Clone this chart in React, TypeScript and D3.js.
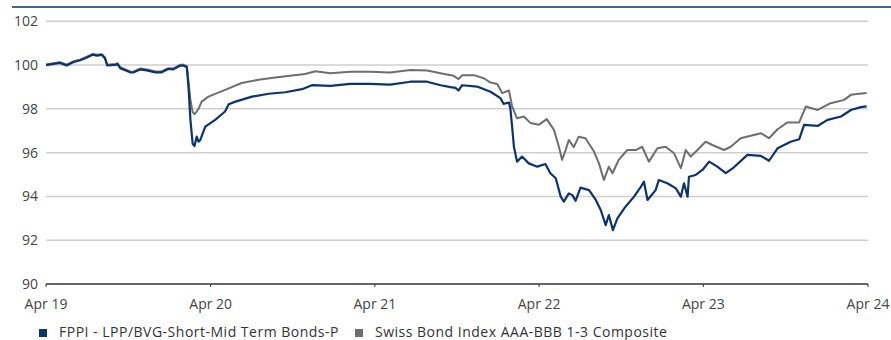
import * as d3 from "d3";

// Chart size
const width = 891;
const height = 340;

// Values, month by month
const fundDates = [
  "2019-04-01", "2019-05-02", "2019-05-17", "2019-05-31", "2019-06-16", "2019-07-01", "2019-07-14", "2019-07-23",
  "2019-08-03", "2019-08-10", "2019-08-15", "2019-09-02", "2019-09-07", "2019-09-13", "2019-10-05", "2019-10-12",
  "2019-10-27", "2019-11-11", "2019-11-30", "2019-12-14", "2019-12-29", "2020-01-09", "2020-01-13", "2020-01-24",
  "2020-01-31", "2020-02-08", "2020-02-12", "2020-02-16", "2020-02-21", "2020-02-25", "2020-03-01", "2020-03-05",
  "2020-03-09", "2020-03-20", "2020-04-11", "2020-05-03", "2020-05-11", "2020-05-26", "2020-07-02", "2020-08-08",
  "2020-09-14", "2020-10-21", "2020-11-12", "2020-12-23", "2021-02-05", "2021-03-22", "2021-05-05", "2021-06-19",
  "2021-07-26", "2021-08-25", "2021-09-16", "2021-09-27", "2021-10-04", "2021-10-12", "2021-11-14", "2021-12-14",
  "2022-01-05", "2022-01-12", "2022-01-24", "2022-01-27", "2022-01-31", "2022-02-04", "2022-02-11", "2022-02-22",
  "2022-03-09", "2022-03-28", "2022-04-15", "2022-04-26", "2022-05-08", "2022-05-19", "2022-05-26", "2022-06-06",
  "2022-06-14", "2022-06-21", "2022-07-02", "2022-07-21", "2022-08-05", "2022-08-16", "2022-08-27", "2022-09-03",
  "2022-09-12", "2022-09-22", "2022-10-10", "2022-10-29", "2022-11-13", "2022-11-20", "2022-11-28", "2022-12-16",
  "2022-12-23", "2023-01-11", "2023-01-30", "2023-02-10", "2023-02-17", "2023-02-25", "2023-02-28", "2023-03-15",
  "2023-03-30", "2023-04-14", "2023-05-02", "2023-05-21", "2023-06-08", "2023-07-08", "2023-08-07", "2023-08-25",
  "2023-09-13", "2023-10-12", "2023-10-31", "2023-11-11", "2023-12-11", "2024-01-02", "2024-02-01", "2024-02-23",
  "2024-03-16", "2024-03-29",
];
const fundValues = [
  100.0, 100.1, 99.98, 100.13, 100.22, 100.35, 100.47, 100.43,
  100.47, 100.31, 99.98, 100.01, 100.04, 99.86, 99.67, 99.66,
  99.8, 99.76, 99.67, 99.67, 99.82, 99.8, 99.86, 99.97,
  99.98, 99.9, 98.9, 97.5, 96.4, 96.3, 96.73, 96.5,
  96.58, 97.19, 97.5, 97.88, 98.21, 98.33, 98.56, 98.69,
  98.76, 98.9, 99.08, 99.05, 99.14, 99.14, 99.11, 99.24,
  99.24, 99.08, 98.99, 98.96, 98.84, 99.08, 99.02, 98.78,
  98.49, 98.23, 98.29, 98.03, 97.19, 96.27, 95.59, 95.82,
  95.51, 95.36, 95.48, 95.06, 94.83, 93.99, 93.76, 94.14,
  94.06, 93.8, 94.4, 94.29, 93.84, 93.38, 92.69, 93.15,
  92.46, 93.0, 93.53, 93.99, 94.44, 94.67, 93.84, 94.29,
  94.75, 94.6, 94.37, 93.99, 94.6, 93.99, 94.9, 94.98,
  95.21, 95.59, 95.36, 95.06, 95.33, 95.9, 95.85, 95.63,
  96.2, 96.5, 96.61, 97.27, 97.22, 97.5, 97.65, 97.95,
  98.08, 98.11,
];

const indexDates = [
  "2019-04-01", "2019-05-02", "2019-05-17", "2019-05-31", "2019-06-16", "2019-07-01", "2019-07-14", "2019-07-23",
  "2019-08-03", "2019-08-10", "2019-08-15", "2019-09-02", "2019-09-07", "2019-09-13", "2019-10-05", "2019-10-12",
  "2019-10-27", "2019-11-11", "2019-11-30", "2019-12-14", "2019-12-29", "2020-01-09", "2020-01-13", "2020-01-24",
  "2020-01-31", "2020-02-08", "2020-02-12", "2020-02-16", "2020-02-21", "2020-02-25", "2020-02-27", "2020-03-05",
  "2020-03-12", "2020-03-27", "2020-05-03", "2020-06-09", "2020-07-16", "2020-08-23", "2020-09-29", "2020-10-28",
  "2020-11-20", "2020-12-23", "2021-02-05", "2021-03-22", "2021-05-05", "2021-06-19", "2021-07-26", "2021-08-25",
  "2021-09-23", "2021-10-04", "2021-10-12", "2021-11-07", "2021-11-29", "2021-12-14", "2021-12-29", "2022-01-09",
  "2022-01-24", "2022-01-31", "2022-02-11", "2022-02-26", "2022-03-13", "2022-03-31", "2022-04-18", "2022-05-04",
  "2022-05-15", "2022-05-22", "2022-05-30", "2022-06-06", "2022-06-17", "2022-06-28", "2022-07-13", "2022-08-01",
  "2022-08-12", "2022-08-23", "2022-09-03", "2022-09-11", "2022-09-25", "2022-10-14", "2022-11-02", "2022-11-16",
  "2022-12-01", "2022-12-20", "2023-01-07", "2023-01-26", "2023-02-10", "2023-02-21", "2023-03-04", "2023-03-19",
  "2023-04-06", "2023-04-21", "2023-05-17", "2023-06-01", "2023-06-23", "2023-08-07", "2023-08-25", "2023-09-13",
  "2023-10-05", "2023-10-31", "2023-11-15", "2023-12-11", "2024-01-09", "2024-02-08", "2024-02-23", "2024-03-12",
  "2024-03-29",
];
const indexValues = [
  100.03, 100.13, 100.02, 100.16, 100.25, 100.38, 100.51, 100.47,
  100.5, 100.35, 100.02, 100.05, 100.08, 99.9, 99.71, 99.7,
  99.84, 99.8, 99.71, 99.71, 99.86, 99.84, 99.88, 100.01,
  100.02, 99.95, 99.2, 98.4, 97.85, 97.76, 97.8, 98.0,
  98.33, 98.56, 98.87, 99.18, 99.33, 99.43, 99.52, 99.59,
  99.72, 99.63, 99.69, 99.69, 99.66, 99.78, 99.75, 99.63,
  99.51, 99.36, 99.54, 99.54, 99.4, 99.2, 99.14, 98.72,
  98.84, 98.11, 97.57, 97.65, 97.35, 97.27, 97.53, 97.04,
  96.27, 95.67, 96.12, 96.58, 96.25, 96.73, 96.66, 96.05,
  95.51, 94.75, 95.36, 95.06, 95.67, 96.12, 96.12, 96.27,
  95.59, 96.2, 96.27, 95.97, 95.29, 96.12, 95.82, 96.12,
  96.5, 96.35, 96.12, 96.27, 96.66, 96.89, 96.66, 97.07,
  97.38, 97.38, 98.11, 97.95, 98.26, 98.41, 98.64, 98.69,
  98.72,
];

const yTicks = [90, 92, 94, 96, 98, 100, 102];
const xTickDates = ["2019-04-01", "2020-04-01", "2021-04-01", "2022-04-01", "2023-04-01", "2024-04-01"];
const xTickLabels = ["Apr 19", "Apr 20", "Apr 21", "Apr 22", "Apr 23", "Apr 24"];

const seriesNames = ["FPPI - LPP/BVG-Short-Mid Term Bonds-P", "Swiss Bond Index AAA-BBB 1-3 Composite"];
const seriesColors = ["#0b3371", "#6e6e6e"];

const parse = d3.utcParse("%Y-%m-%d");
const font = "'Open Sans', sans-serif";

export default function App() {
  const x = d3.scaleUtc()
    .domain([parse("2019-04-01"), parse("2024-04-01")])
    .range([46, 868]);
  const y = d3.scaleLinear().domain([90, 102]).range([284, 21.3]);

  const line = d3.line<[Date, number]>()
    .x(d => x(d[0]))
    .y(d => y(d[1]));

  const fund = fundDates.map((d, i) => [parse(d), fundValues[i]] as [Date, number]);
  const index = indexDates.map((d, i) => [parse(d), indexValues[i]] as [Date, number]);

  const legendX = [39, 355];

  return (
    <svg width={width} height={height} style={{ position: "absolute", left: 0, top: 0 }} fontFamily={font}>
      <line x1={12} x2={width} y1={7} y2={7} stroke="#0b3371" strokeWidth={1.3} />
      {yTicks.filter(t => t !== 90).map(t => (
        <line key={t} x1={46} x2={868} y1={y(t)} y2={y(t)} stroke="#cfcfcf" strokeWidth={1.5} />
      ))}
      {yTicks.map(t => (
        <text key={t} x={38} y={y(t)} dy="0.35em" textAnchor="end" fontSize={14} fill="#444">{t}</text>
      ))}
      <path d={line(index) ?? ""} fill="none" stroke={seriesColors[1]} strokeWidth={2} strokeLinejoin="round" />
      <path d={line(fund) ?? ""} fill="none" stroke={seriesColors[0]} strokeWidth={2.2} strokeLinejoin="round" />
      <line x1={46} x2={868} y1={y(90)} y2={y(90)} stroke="#333" strokeWidth={1.5} />
      {xTickDates.map((d, i) => (
        <g key={d} transform={`translate(${x(parse(d))},${y(90)})`}>
          <line y1={0} y2={3} stroke="#333" strokeWidth={1} />
          <text y={25} textAnchor="middle" fontSize={14} fill="#444">{xTickLabels[i]}</text>
        </g>
      ))}
      {seriesNames.map((name, i) => (
        <g key={name} transform={`translate(${legendX[i]},329)`}>
          <rect width={8} height={8} fill={seriesColors[i]} />
          <text x={20} y={8} fontSize={14} letterSpacing={0.5} fill="#333">{name}</text>
        </g>
      ))}
    </svg>
  );
}
